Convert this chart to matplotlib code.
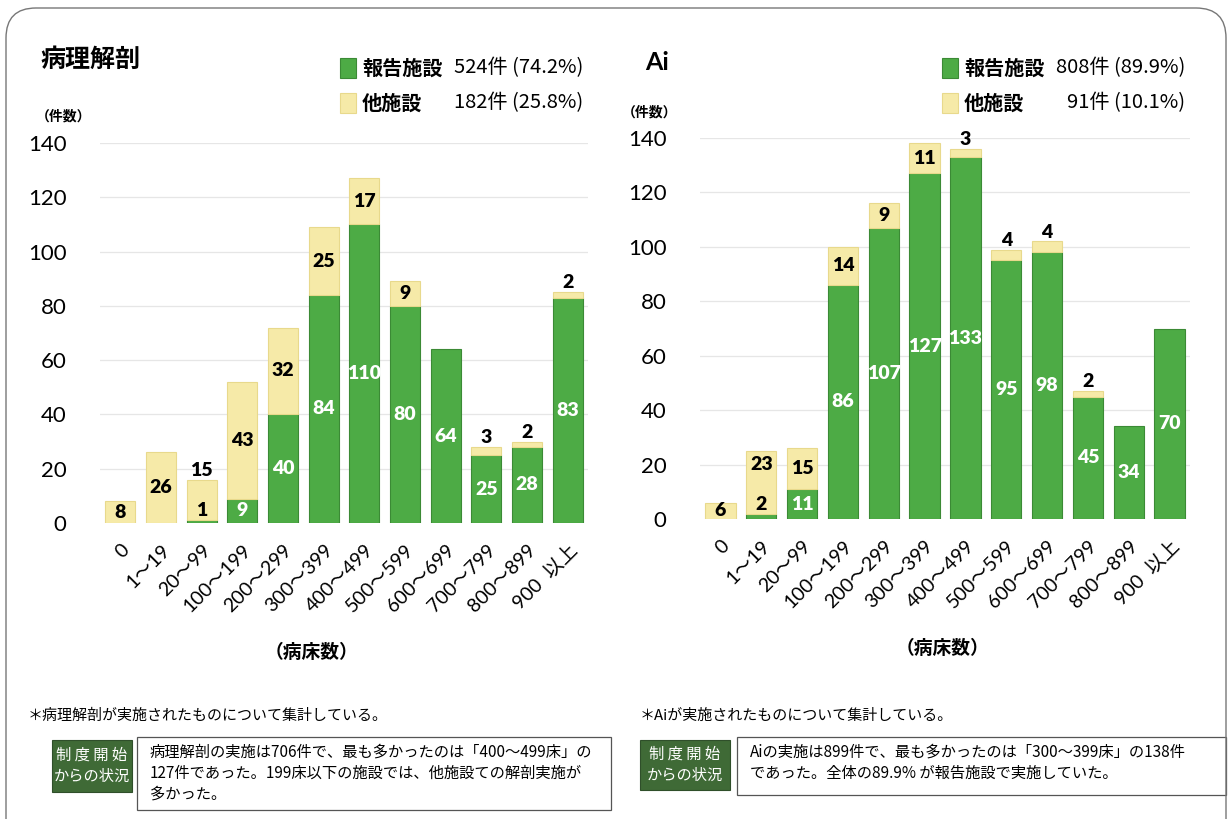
import matplotlib
matplotlib.use('Agg')
import matplotlib.pyplot as plt
import numpy as np
from matplotlib.patches import FancyBboxPatch, Rectangle

plt.rcParams['font.family'] = ['Noto Sans CJK JP', 'DejaVu Sans']

# Data
categories = ['0', '1～19', '20～99', '100～199', '200～299', '300～399', '400～499',
              '500～599', '600～699', '700～799', '800～899', '900  以上']

path_report = [0, 0, 1, 9, 40, 84, 110, 80, 64, 25, 28, 83]
path_other = [8, 26, 15, 43, 32, 25, 17, 9, 0, 3, 2, 2]

ai_report = [0, 2, 11, 86, 107, 127, 133, 95, 98, 45, 34, 70]
ai_other = [6, 23, 15, 14, 9, 11, 3, 4, 4, 2, 0, 0]

legend_names = ['報告施設', '他施設']
legend_path_counts = ['524件 (74.2%)', '182件 (25.8%)']
legend_ai_counts = ['808件 (89.9%)', '91件 (10.1%)']

GREEN = '#4dab45'
GREEN_EDGE = '#3b8a35'
YELLOW = '#f6eaa8'
YELLOW_EDGE = '#e8d98c'
DARK_GREEN = '#3f6a36'

W, H = 1232, 819
fig = plt.figure(figsize=(W / 100, H / 100), dpi=100)


def fx(x):
    return x / W


def fy(y):
    return 1 - y / H


NUM_FONT = ['Lato', 'Noto Sans CJK JP', 'DejaVu Sans']


def draw_chart(ax, report, other):
    x = np.arange(len(categories))
    rep = np.array(report)
    oth = np.array(other)
    g_idx = x[rep > 0]
    o_idx = x[oth > 0]
    ax.bar(g_idx, rep[g_idx], width=0.74, color=GREEN, edgecolor=GREEN_EDGE,
           linewidth=0.8, zorder=3)
    ax.bar(o_idx, oth[o_idx], width=0.74, bottom=rep[o_idx], color=YELLOW,
           edgecolor=YELLOW_EDGE, linewidth=0.8, zorder=3)
    ax.set_xlim(-0.5, len(categories) - 0.5)
    ax.set_ylim(0, 140)
    ax.set_yticks(range(0, 141, 20))
    for yv in range(20, 141, 20):
        ax.axhline(yv, color='#e6e6e6', linewidth=0.9, zorder=1)
    for s in ax.spines.values():
        s.set_visible(False)
    ax.tick_params(axis='both', length=0)
    ax.tick_params(axis='y', pad=24)
    for lab in ax.get_yticklabels():
        lab.set_fontfamily(NUM_FONT)
        lab.set_fontsize(16)
    ax.set_xticks(x)
    ax.set_xticklabels(categories, rotation=45, ha='right', va='top',
                       rotation_mode='anchor', fontsize=14, family=NUM_FONT)
    ax.tick_params(axis='x', pad=13)

    lab_kw = dict(ha='center', fontsize=14, fontweight='heavy', family=NUM_FONT, zorder=5)
    for i in x:
        g = report[i]
        o = other[i]
        top = g + o
        green_out = False
        if g >= 5:
            ax.text(i, g / 2, str(g), va='center', color='white', **lab_kw)
        elif g > 0:
            green_out = True
            ax.text(i, g + 0.3, str(g), va='bottom', color='black', **lab_kw)
        if o == 0:
            continue
        if o >= 5:
            yl = g + o / 2
            if green_out:
                cand = top - 5
                if cand - (g + 3) < 8:
                    ax.text(i, top + 0.3, str(o), va='bottom', color='black', **lab_kw)
                    continue
                yl = max(yl, cand)
            ax.text(i, yl, str(o), va='center', color='black', **lab_kw)
        else:
            ax.text(i, top + 0.3, str(o), va='bottom', color='black', **lab_kw)


# Left chart: 病理解剖
ax1 = fig.add_axes([fx(100), fy(523), fx(588) - fx(100), fy(143) - fy(523)])
draw_chart(ax1, path_report, path_other)

# Right chart: Ai
ax2 = fig.add_axes([fx(700), fy(519), fx(1190) - fx(700), fy(138) - fy(519)])
draw_chart(ax2, ai_report, ai_other)

# Titles
fig.text(fx(40), fy(60), '病理解剖', fontsize=18, fontweight='bold', va='center')
fig.text(fx(645), fy(62), 'Ai', fontsize=18, fontweight='bold', va='center',
         family=['Lato', 'DejaVu Sans'])
fig.text(fx(36), fy(116), '（件数）', fontsize=10, fontweight='bold', va='center')
fig.text(fx(622), fy(113), '（件数）', fontsize=10, fontweight='bold', va='center')
fig.text(fx(312), fy(652), '（病床数）', fontsize=13.5, fontweight='bold', ha='center', va='center')
fig.text(fx(942), fy(648), '（病床数）', fontsize=13.5, fontweight='bold', ha='center', va='center')

# Legends
for x0, right, counts in [(340, 583, legend_path_counts), (942, 1185, legend_ai_counts)]:
    for k, (col, ec, name) in enumerate([(GREEN, GREEN_EDGE, legend_names[0]),
                                         (YELLOW, YELLOW_EDGE, legend_names[1])]):
        yc = 68 + 35 * k
        fig.patches.append(Rectangle((fx(x0), fy(yc + 10)), fx(16), 20 / H,
                                     transform=fig.transFigure, facecolor=col,
                                     edgecolor=ec, linewidth=0.8))
        fig.text(fx(x0 + 22), fy(yc), name, fontsize=14.5, fontweight='bold', va='center')
        fig.text(fx(right), fy(yc), counts[k], fontsize=14.5, ha='right', va='center')

# Footnotes
fig.text(fx(28), fy(716), '＊病理解剖が実施されたものについて集計している。', fontsize=10.8, va='center')
fig.text(fx(640), fy(716), '＊Aiが実施されたものについて集計している。', fontsize=10.8, va='center')

# Status boxes
boxes = [
    (52, 132, 740, 792, 137, 611, 737, 810,
     ['病理解剖の実施は706件で、最も多かったのは「400～499床」の',
      '127件であった。199床以下の施設では、他施設ての解剖実施が',
      '多かった。']),
    (640, 730, 740, 790, 737, 1226, 737, 795,
     ['Aiの実施は899件で、最も多かったのは「300～399床」の138件',
      'であった。全体の89.9% が報告施設で実施していた。']),
]
for gx0, gx1, gy0, gy1, wx0, wx1, wy0, wy1, lines in boxes:
    fig.patches.append(Rectangle((fx(gx0), fy(gy1)), fx(gx1 - gx0), (gy1 - gy0) / H,
                                 transform=fig.transFigure, facecolor=DARK_GREEN,
                                 edgecolor='#2f4f2a', linewidth=0.8))
    fig.text(fx((gx0 + gx1) / 2), fy((gy0 + gy1) / 2), '制 度 開 始\nからの状況',
             color='white', fontsize=11, ha='center', va='center', linespacing=1.35)
    fig.patches.append(Rectangle((fx(wx0), fy(wy1)), fx(wx1 - wx0), (wy1 - wy0) / H,
                                 transform=fig.transFigure, facecolor='white',
                                 edgecolor='#555555', linewidth=0.9))
    for j, line in enumerate(lines):
        fig.text(fx(wx0 + 13), fy(wy0 + 15 + 21 * j), line, fontsize=11, va='center')

# Outer rounded frame
frame = FancyBboxPatch((0.06, -0.3), 12.2, 8.41,
                       boxstyle='round,pad=0,rounding_size=0.3',
                       transform=fig.dpi_scale_trans, facecolor='none',
                       edgecolor='#777777', linewidth=1.0)
fig.patches.append(frame)

fig.savefig('out.png', dpi=100)
